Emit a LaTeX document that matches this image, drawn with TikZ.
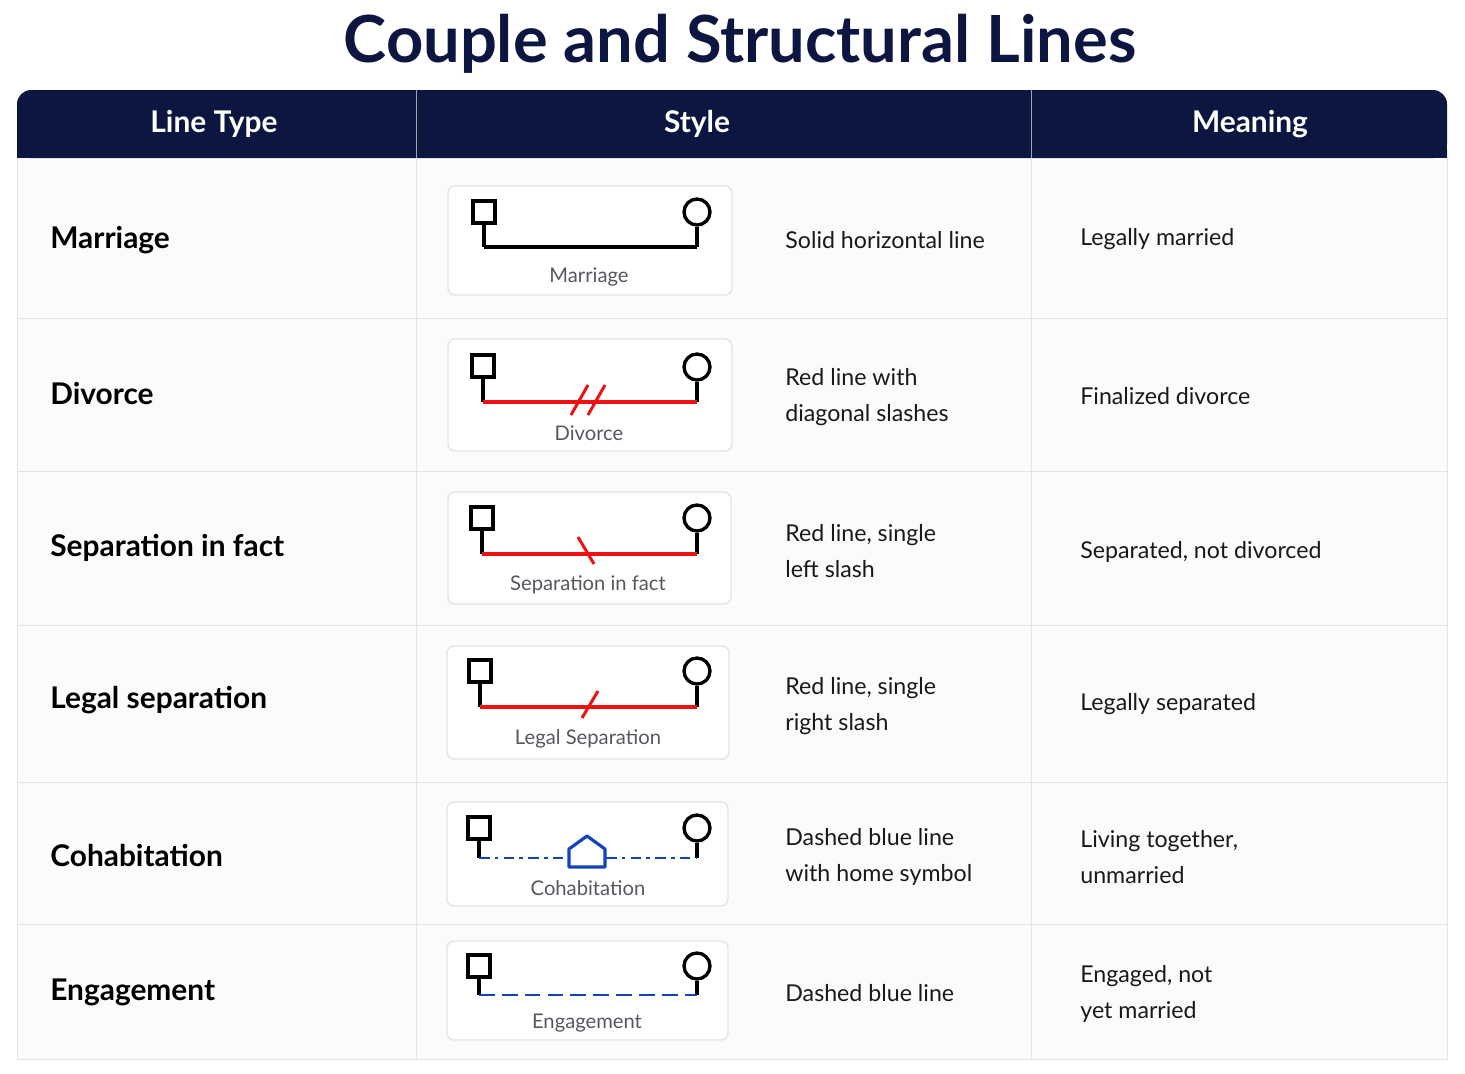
\documentclass[tikz,border=0pt]{standalone}
\usepackage{fontspec}
\setmainfont{Lato}
\usetikzlibrary{positioning}
\definecolor{navy}{HTML}{0D1640}
\definecolor{gridc}{HTML}{E3E4E8}
\definecolor{lblc}{HTML}{55585F}
\definecolor{kinred}{HTML}{EE1111}
\definecolor{kinblue}{HTML}{1244B8}
\tikzset{
  rowlabel/.style={anchor=west, inner sep=0pt, font=\fontsize{17}{20}\selectfont\bfseries, text=black},
  bodytext/.style={anchor=west, inner sep=0pt, align=left, font=\fontsize{13.2}{20}\selectfont, text=black!90},
  headtext/.style={font=\fontsize{17}{20}\selectfont\bfseries, text=white},
  stylebox/.style={draw=gridc, fill=white, rounded corners=4pt, line width=0.8pt},
  boxlabel/.style={font=\fontsize{11.5}{14}\selectfont, text=lblc},
  male/.style={draw, line width=1.9pt, minimum size=0.44cm, inner sep=0pt},
  female/.style={draw, circle, line width=1.9pt, minimum size=0.52cm, inner sep=0pt},
  stem/.style={line width=1.9pt},
  tie/.style={line width=1.9pt},
}
% square and circle of one couple
\newcommand{\pair}[4]{% name, square centre y, circle centre y, left x
  \node[male] (#1m) at (#4,#2) {};
  \node[female] (#1f) at (697,#3) {};
}
\begin{document}
\begin{tikzpicture}[x=0.02cm, y=-0.02cm]
\useasboundingbox (0,0) rectangle (1465,1073);
\fill[white] (0,0) rectangle (1465,1073);

% title and header
\node[font=\fontsize{37}{42}\selectfont\bfseries, text=navy] (title) at (740,44) {Couple and Structural Lines};
\fill[fill=black!1.5, draw=gridc] (17,150) rectangle (1447,1059);
\fill[navy, rounded corners=8pt] (17,90) rectangle (1447,158);
\fill[navy] (17,130) rectangle (1447,158);
\draw[white!60!navy] (416,90) -- (416,158) (1031,90) -- (1031,158);
\node[headtext] (h1) at (214,124) {Line Type};
\node[headtext] (h2) at (697,124) {Style};
\node[headtext] (h3) at (1250,124) {Meaning};

% grid
\foreach \yy in {318,471,625,782,924} \draw[gridc] (17,\yy) -- (1447,\yy);
\draw[gridc] (416,158) -- (416,1059) (1031,158) -- (1031,1059);

% row texts
\node[rowlabel] (r1) at (50,240) {Marriage};
\node[rowlabel] (r2) at (50,394) {Divorce};
\node[rowlabel] (r3) at (50,548) {Separation in fact};
\node[rowlabel] (r4) at (50,700) {Legal separation};
\node[rowlabel] (r5) at (50,856) {Cohabitation};
\node[rowlabel] (r6) at (50,992) {Engagement};

\node[bodytext] (s1) at (785,240) {Solid horizontal line};
\node[bodytext] (s2) at (785,397) {Red line with\\diagonal slashes};
\node[bodytext] (s3) at (785,551) {Red line, single\\left slash};
\node[bodytext] (s4) at (785,706) {Red line, single\\right slash};
\node[bodytext] (s5) at (785,857) {Dashed blue line\\with home symbol};
\node[bodytext] (s6) at (785,993) {Dashed blue line};

\node[bodytext] (m1) at (1080,239) {Legally married};
\node[bodytext] (m2) at (1080,396) {Finalized divorce};
\node[bodytext] (m3) at (1080,552) {Separated, not divorced};
\node[bodytext] (m4) at (1080,704) {Legally separated};
\node[bodytext] (m5) at (1080,857) {Living together,\\unmarried};
\node[bodytext] (m6) at (1080,994) {Engaged, not\\yet married};

% style boxes
\draw[stylebox] (448,186) rectangle (732,295);
\draw[stylebox] (448,339) rectangle (732,451);
\draw[stylebox] (448,492) rectangle (731,604);
\draw[stylebox] (447,646) rectangle (729,759);
\draw[stylebox] (447,802) rectangle (728,906);
\draw[stylebox] (447,941) rectangle (728,1040);

% marriage
\pair{a}{212}{212}{484}
\coordinate (al) at (484,247); \coordinate (ar) at (697,247);
\draw[stem] (am.south) -- (al) (af.south) -- (ar);
\draw[tie] (al) -- (ar);
\node[boxlabel] (la) at (589,277) {Marriage};

% divorce
\pair{b}{366}{367}{483}
\coordinate (bl) at (483,402); \coordinate (br) at (697,402);
\draw[stem] (bm.south) -- (bl) (bf.south) -- (br);
\draw[tie, kinred] (bl) -- (br);
\draw[kinred, line width=1.7pt] (571,415) -- (588,385) (588,415) -- (605,385);
\node[boxlabel] (lb) at (589,433) {Divorce};

% separation in fact
\pair{c}{518}{518}{482}
\coordinate (cl) at (482,554); \coordinate (cr) at (697,554);
\draw[stem] (cm.south) -- (cl) (cf.south) -- (cr);
\draw[tie, kinred] (cl) -- (cr);
\draw[kinred, line width=1.7pt] (578,537) -- (594,564);
\node[boxlabel] (lc) at (588,585) {Separation in fact};

% legal separation
\pair{d}{671}{671}{480}
\coordinate (dl) at (480,707); \coordinate (dr) at (697,707);
\draw[stem] (dm.south) -- (dl) (df.south) -- (dr);
\draw[tie, kinred] (dl) -- (dr);
\draw[kinred, line width=1.7pt] (582,718) -- (598,691);
\node[boxlabel] (ld) at (588,739) {Legal Separation};

% cohabitation
\pair{e}{828}{828}{479}
\coordinate (el) at (479,858); \coordinate (er) at (697,858);
\coordinate (hl) at (568,858); \coordinate (hr) at (606,858);
\draw[stem] (em.south) -- (el) (ef.south) -- (er);
\draw[tie, kinblue, line width=1.5pt, dash pattern=on 6pt off 3pt on 2pt off 3pt] (el) -- (hl) (hr) -- (er);
\draw[kinblue, line width=1.8pt, line join=round] (569,867) -- (569,849) -- (587,836) -- (605,849) -- (605,867) -- cycle;
\node[boxlabel] (le) at (588,888) {Cohabitation};

% engagement
\pair{f}{966}{966}{479}
\coordinate (fl) at (479,995); \coordinate (fr) at (697,995);
\draw[stem] (fm.south) -- (fl) (ff.south) -- (fr);
\draw[tie, kinblue, line width=1.5pt, dash pattern=on 9pt off 4pt] (fl) -- (fr);
\node[boxlabel] (lf) at (587,1023) {Engagement};
\end{tikzpicture}
\end{document}
